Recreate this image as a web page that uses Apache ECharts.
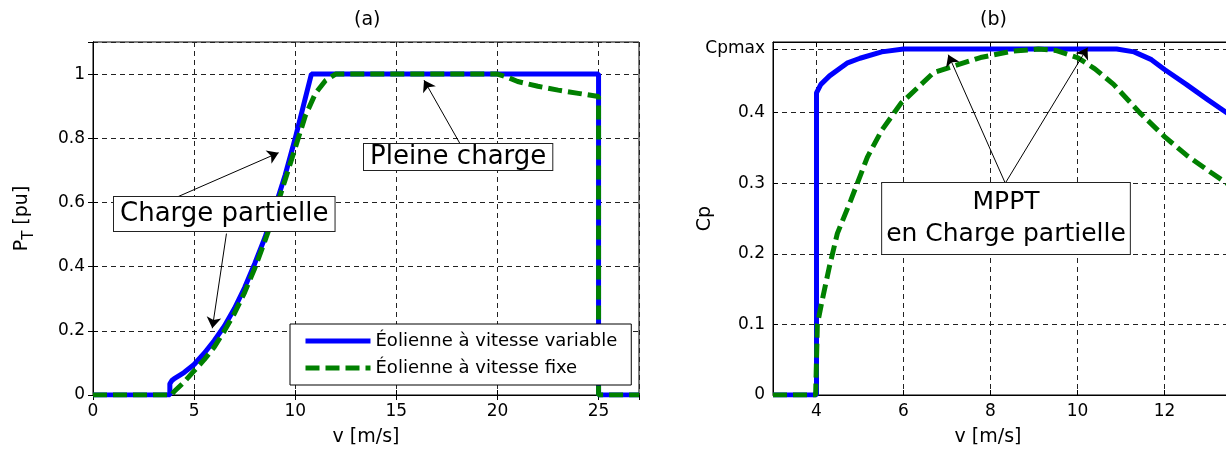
<!DOCTYPE html>
<html>
<head>
<meta charset="utf-8">
<script src="https://cdn.jsdelivr.net/npm/echarts@6/dist/echarts.min.js"></script>
<style>
  html, body { margin: 0; padding: 0; background: #fff; }
  #chart { width: 1226px; height: 456px; }
</style>
</head>
<body>
<div id="chart"></div>
<script>
var myChart = echarts.init(document.getElementById('chart'));

// (a) puissance P_T en fonction de v
var vVarA = [0, 3.8, 3.8, 3.9, 4, 4.5, 5, 5.5, 6, 6.5, 7, 7.5, 8, 8.5, 9, 9.5, 10, 10.4, 10.8, 25, 25, 27];
var pVarA = [0, 0, 0.035, 0.045, 0.05, 0.07, 0.095, 0.13, 0.17, 0.215, 0.27, 0.335, 0.41, 0.49, 0.585, 0.685, 0.8, 0.9, 1, 1, 0, 0];
var vFixA = [0, 3.9, 4, 4.5, 5, 5.5, 6, 6.5, 7, 7.5, 8, 8.5, 9, 9.5, 10, 10.5, 11, 11.5, 12, 20, 20.5, 21, 22, 23, 24, 25, 25, 27];
var pFixA = [0, 0, 0.01, 0.04, 0.075, 0.11, 0.15, 0.2, 0.255, 0.32, 0.395, 0.48, 0.57, 0.67, 0.77, 0.87, 0.94, 0.98, 1, 1, 0.99, 0.977, 0.962, 0.95, 0.94, 0.93, 0, 0];

// (b) coefficient Cp en fonction de v
var vVarB = [3, 4, 4, 4.1, 4.3, 4.7, 5, 5.5, 6, 10.9, 11.3, 11.7, 12, 12.5, 13, 13.5, 14];
var cpVarB = [0, 0, 0.428, 0.44, 0.452, 0.47, 0.477, 0.486, 0.49, 0.49, 0.486, 0.475, 0.461, 0.44, 0.418, 0.397, 0.375];
var vFixB = [3, 3.98, 4.02, 4.13, 4.29, 4.48, 4.79, 5.17, 5.5, 5.94, 6.7, 7.77, 8.5, 9.1, 9.5, 10, 10.4, 10.83, 11.43, 12, 12.5, 13, 13.5, 14];
var cpFixB = [0, 0, 0.1, 0.134, 0.18, 0.229, 0.276, 0.337, 0.375, 0.413, 0.457, 0.478, 0.487, 0.49, 0.488, 0.478, 0.462, 0.44, 0.4, 0.366, 0.34, 0.318, 0.297, 0.28];

var cpMax = 0.49;
var xTicksB = [4, 6, 8, 10, 12, 14];
var yTicksB = [0, 0.1, 0.2, 0.3, 0.4, cpMax];
var legendNames = ['Éolienne à vitesse variable', 'Éolienne à vitesse fixe'];

function zip(xs, ys) {
    return xs.map(function (x, i) { return [x, ys[i]]; });
}

var font = 'DejaVu Sans';
var blue = '#0000ff';
var green = '#008000';
var gridLine = { show: true, lineStyle: { color: '#222', type: [5, 4], width: 1 } };
var tickIn = { show: true, inside: true, length: 5, lineStyle: { color: '#000' } };
var axLine = { show: true, lineStyle: { color: '#000', width: 1 } };
var lbl = { color: '#000', fontFamily: font, fontSize: 17 };
var nameStyle = { fontFamily: font, fontSize: 19, color: '#000' };

function arrow(from, to) {
    return [{ coord: from, symbol: 'none' }, { coord: to, symbol: 'arrow', symbolSize: 11 }];
}
var arrowStyle = {
    silent: true,
    symbol: ['none', 'arrow'],
    label: { show: false },
    lineStyle: { color: '#000', width: 1, type: 'solid' },
    itemStyle: { color: '#000' },
    animation: false
};

var option = {
    animation: false,
    title: [
        { text: '(a)', left: 349, top: 6, textStyle: { fontFamily: font, fontSize: 19, fontWeight: 'normal', color: '#000' } },
        { text: '(b)', left: 975, top: 6, textStyle: { fontFamily: font, fontSize: 19, fontWeight: 'normal', color: '#000' } }
    ],
    grid: [
        { left: 93, top: 42, width: 546, height: 353, outerBoundsMode: 'none', show: true, borderColor: '#000', borderWidth: 1, backgroundColor: '#fff' },
        { left: 773, top: 42, width: 522, height: 353, outerBoundsMode: 'none', show: true, borderColor: '#000', borderWidth: 1, backgroundColor: '#fff' }
    ],
    legend: {
        data: legendNames,
        orient: 'vertical',
        left: 290,
        top: 324,
        backgroundColor: '#fff',
        borderColor: '#000',
        borderWidth: 1,
        borderRadius: 0,
        padding: [8, 14, 8, 13],
        itemWidth: 65,
        itemHeight: 14,
        itemGap: 9,
        itemStyle: { opacity: 0 },
        lineStyle: { width: 5 },
        textStyle: { fontFamily: font, fontSize: 18, color: '#000' }
    },
    xAxis: [
        {
            type: 'value', gridIndex: 0, min: 0, max: 27, interval: 5,
            name: 'v [m/s]', nameLocation: 'middle', nameGap: 33, nameTextStyle: nameStyle,
            axisLine: axLine, axisTick: tickIn, splitLine: gridLine,
            axisLabel: Object.assign({ margin: 8, showMaxLabel: false }, lbl)
        },
        {
            type: 'value', gridIndex: 0, position: 'top', min: 0, max: 27, interval: 5,
            axisLine: axLine, axisTick: tickIn, splitLine: { show: false }, axisLabel: { show: false }
        },
        {
            type: 'value', gridIndex: 1, min: 3, max: 15,
            name: 'v [m/s]', nameLocation: 'middle', nameGap: 33,
            nameTextStyle: Object.assign({ padding: [0, 92, 0, 0] }, nameStyle),
            axisLine: axLine,
            axisTick: Object.assign({ customValues: xTicksB }, tickIn),
            splitLine: gridLine,
            axisLabel: Object.assign({ margin: 8, customValues: xTicksB }, lbl)
        },
        {
            type: 'value', gridIndex: 1, position: 'top', min: 3, max: 15,
            axisLine: axLine,
            axisTick: Object.assign({ customValues: xTicksB }, tickIn),
            splitLine: { show: false }, axisLabel: { show: false }
        }
    ],
    yAxis: [
        {
            type: 'value', gridIndex: 0, min: 0, max: 1.1, interval: 0.2,
            name: 'P{sub|T} [pu]', nameLocation: 'middle', nameGap: 56,
            nameTextStyle: {
                fontFamily: font, fontSize: 19, color: '#000',
                rich: { sub: { fontFamily: font, fontSize: 15, color: '#000', padding: [15, 0, 0, 0] } }
            },
            axisLine: axLine, axisTick: tickIn, splitLine: gridLine,
            axisLabel: Object.assign({ margin: 8, showMaxLabel: false }, lbl)
        },
        {
            type: 'value', gridIndex: 0, position: 'right', min: 0, max: 1.1, interval: 0.2,
            axisLine: axLine, axisTick: tickIn, splitLine: { show: false }, axisLabel: { show: false }
        },
        {
            type: 'value', gridIndex: 1, min: 0, max: 0.5,
            name: 'Cp', nameLocation: 'middle', nameGap: 58, nameMoveOverlap: false, nameTextStyle: nameStyle,
            axisLine: axLine,
            axisTick: Object.assign({ customValues: yTicksB }, tickIn),
            splitLine: gridLine,
            axisLabel: Object.assign({
                margin: 8,
                customValues: yTicksB,
                formatter: function (v) { return v === cpMax ? 'Cpmax' : String(v); }
            }, lbl)
        }
    ],
    graphic: [
        {
            type: 'text', left: 113, top: 196, z: 100,
            style: {
                text: 'Charge partielle', font: '26px "DejaVu Sans"', fill: '#000',
                backgroundColor: '#fff', borderColor: '#222', borderWidth: 1, padding: [4, 6, 4, 6]
            }
        },
        {
            type: 'text', left: 363, top: 143, z: 100,
            style: {
                text: 'Pleine charge', font: '26px "DejaVu Sans"', fill: '#000',
                backgroundColor: '#fff', borderColor: '#222', borderWidth: 1, padding: [0, 6, 0, 6]
            }
        },
        {
            type: 'text', x: 1006, y: 183, z: 100,
            style: {
                text: 'MPPT\nen Charge partielle', font: '25px "DejaVu Sans"', fill: '#000',
                align: 'center', verticalAlign: 'top', lineHeight: 32,
                backgroundColor: '#fff', borderColor: '#222', borderWidth: 1, padding: [3, 4, 4, 4]
            }
        }
    ],
    series: [
        {
            name: legendNames[0], type: 'line', xAxisIndex: 0, yAxisIndex: 0,
            symbol: 'none', showSymbol: false,
            lineStyle: { color: blue, width: 5 }, itemStyle: { color: blue },
            data: zip(vVarA, pVarA),
            markLine: Object.assign({ data: [arrow([4.2, 0.618], [9.18, 0.755]), arrow([6.6, 0.503], [5.9, 0.208])] }, arrowStyle)
        },
        {
            name: legendNames[1], type: 'line', xAxisIndex: 0, yAxisIndex: 0,
            symbol: 'none', showSymbol: false,
            lineStyle: { color: green, width: 5, type: [14, 6] }, itemStyle: { color: green },
            data: zip(vFixA, pFixA),
            markLine: Object.assign({ data: [arrow([18.15, 0.783], [16.37, 0.981])] }, arrowStyle)
        },
        {
            name: 'Cp variable', type: 'line', xAxisIndex: 2, yAxisIndex: 2,
            symbol: 'none', showSymbol: false,
            lineStyle: { color: blue, width: 5 }, itemStyle: { color: blue },
            data: zip(vVarB, cpVarB)
        },
        {
            name: 'Cp fixe', type: 'line', xAxisIndex: 2, yAxisIndex: 2,
            symbol: 'none', showSymbol: false,
            lineStyle: { color: green, width: 5, type: [14, 6] }, itemStyle: { color: green },
            data: zip(vFixB, cpFixB),
            markLine: Object.assign({ data: [arrow([8.34, 0.3], [7.03, 0.482]), arrow([8.34, 0.3], [10.23, 0.492])] }, arrowStyle)
        }
    ]
};

myChart.setOption(option);
</script>
</body>
</html>
